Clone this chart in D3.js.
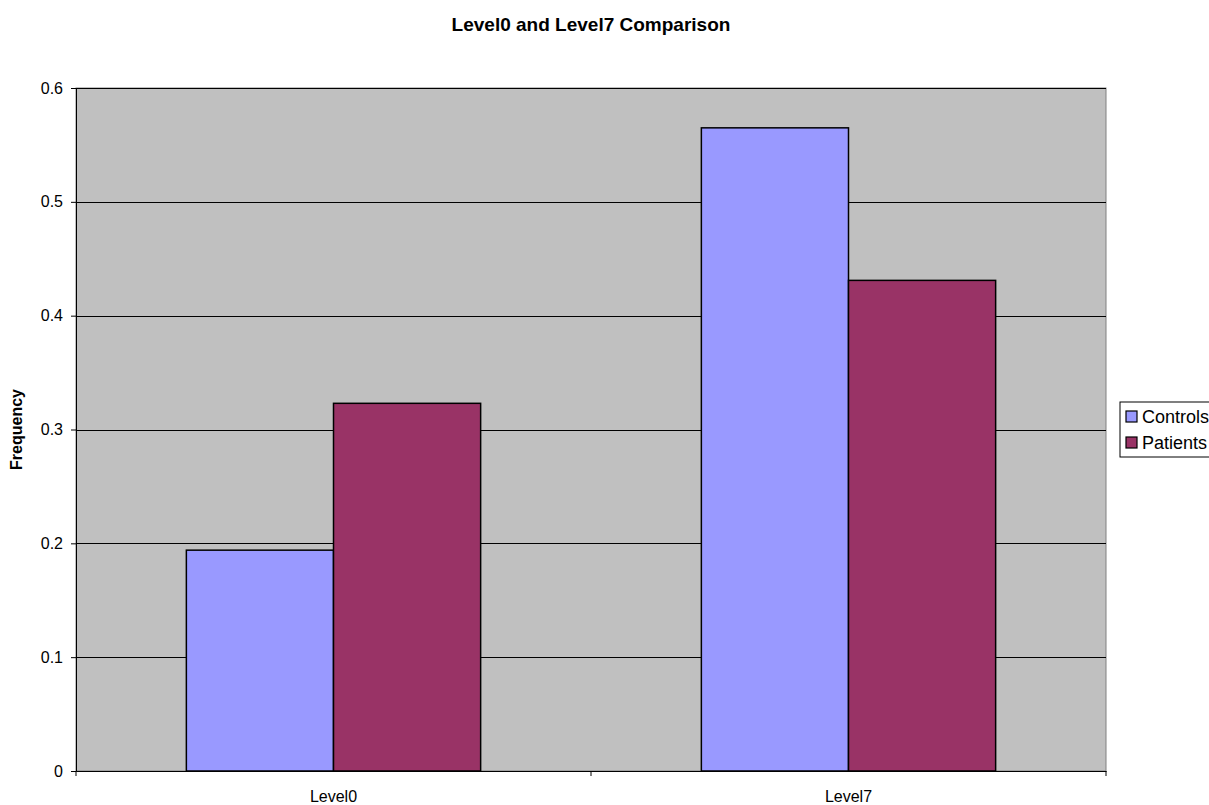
<!DOCTYPE html>
<html>
<head>
<meta charset="utf-8">
<script src="https://cdn.jsdelivr.net/npm/d3@7"></script>
<style>
  body { margin: 0; background: #fff; }
  svg { display: block; font-family: "Liberation Sans", Arial, sans-serif; }
</style>
</head>
<body>
<svg></svg>
<script>
const categories = ["Level0", "Level7"];
const seriesNames = ["Controls", "Patients"];
const controls = [0.194, 0.565];
const patients = [0.323, 0.431];
const yTicks = [0, 0.1, 0.2, 0.3, 0.4, 0.5, 0.6];
const colors = ["#9999ff", "#993366"];

const width = 1209, height = 805;
const margin = { left: 76, right: 103, top: 88, bottom: 34 };
const svg = d3.select("svg").attr("width", width).attr("height", height);

const plotW = width - margin.left - margin.right;
const plotH = height - margin.top - margin.bottom;

const x = d3.scaleBand().domain(categories).range([0, plotW]).padding(0);
// gap width 150%: 0.75 bar width on each side of a group
const x1 = d3.scaleBand().domain(seriesNames).range([0, x.bandwidth()])
  .paddingInner(0).paddingOuter(0.75);
const y = d3.scaleLinear().domain([0, 0.6]).range([plotH, 0]);

const g = svg.append("g").attr("transform", `translate(${margin.left},${margin.top})`);

g.append("rect").attr("width", plotW).attr("height", plotH)
  .attr("fill", "#c0c0c0").attr("stroke", "#808080").attr("stroke-width", 1);

g.append("g").selectAll("line").data(yTicks.filter(d => d > 0)).enter().append("line")
  .attr("x1", 0).attr("x2", plotW)
  .attr("y1", d => Math.round(y(d)) + 0.5).attr("y2", d => Math.round(y(d)) + 0.5)
  .attr("stroke", "#000").attr("stroke-width", 1);

const rows = categories.map((c, i) => ({ cat: c, vals: [controls[i], patients[i]] }));
g.append("g").selectAll("g").data(rows).enter().append("g")
  .attr("transform", d => `translate(${x(d.cat)},0)`)
  .selectAll("rect").data(d => d.vals.map((v, j) => ({ name: seriesNames[j], v, j })))
  .enter().append("rect")
  .attr("x", d => x1(d.name))
  .attr("y", d => y(d.v))
  .attr("width", x1.bandwidth())
  .attr("height", d => plotH - y(d.v))
  .attr("fill", d => colors[d.j])
  .attr("stroke", "#000").attr("stroke-width", 1.5);

const yAxis = d3.axisLeft(y).tickValues(yTicks).tickSize(5).tickPadding(8)
  .tickFormat(d => d === 0 ? "0" : d3.format(".1f")(d));
const ya = g.append("g").call(yAxis);
ya.select(".domain").attr("stroke", "#000");
ya.selectAll("text").attr("font-size", 16).attr("fill", "#000");

const xAxis = d3.axisBottom(x).tickSize(0).tickPadding(20);
const xa = g.append("g").attr("transform", `translate(0,${plotH})`).call(xAxis);
xa.select(".domain").attr("stroke", "#000");
xa.selectAll("text").attr("font-size", 16).attr("fill", "#000");
xa.selectAll(".sep").data([0, plotW / 2, plotW]).enter().append("line")
  .attr("x1", d => d).attr("x2", d => d).attr("y1", 0).attr("y2", 5)
  .attr("stroke", "#000");

svg.append("text").attr("x", margin.left + plotW / 2).attr("y", 31)
  .attr("text-anchor", "middle").attr("font-size", 19).attr("font-weight", "bold")
  .text("Level0 and Level7 Comparison");

svg.append("text").attr("transform", `translate(22,${margin.top + plotH / 2}) rotate(-90)`)
  .attr("text-anchor", "middle").attr("font-size", 16).attr("font-weight", "bold")
  .text("Frequency");

const lg = svg.append("g").attr("transform", "translate(1120,402)");
lg.append("rect").attr("width", 100).attr("height", 55)
  .attr("fill", "#fff").attr("stroke", "#000").attr("stroke-width", 1);
const items = lg.selectAll(".item").data(seriesNames).enter().append("g")
  .attr("transform", (d, i) => `translate(6,${9 + i * 26})`);
items.append("rect").attr("width", 11).attr("height", 11)
  .attr("fill", (d, i) => colors[i]).attr("stroke", "#000").attr("stroke-width", 1.2);
items.append("text").attr("x", 16).attr("y", 12).attr("font-size", 18).text(d => d);
</script>
</body>
</html>
